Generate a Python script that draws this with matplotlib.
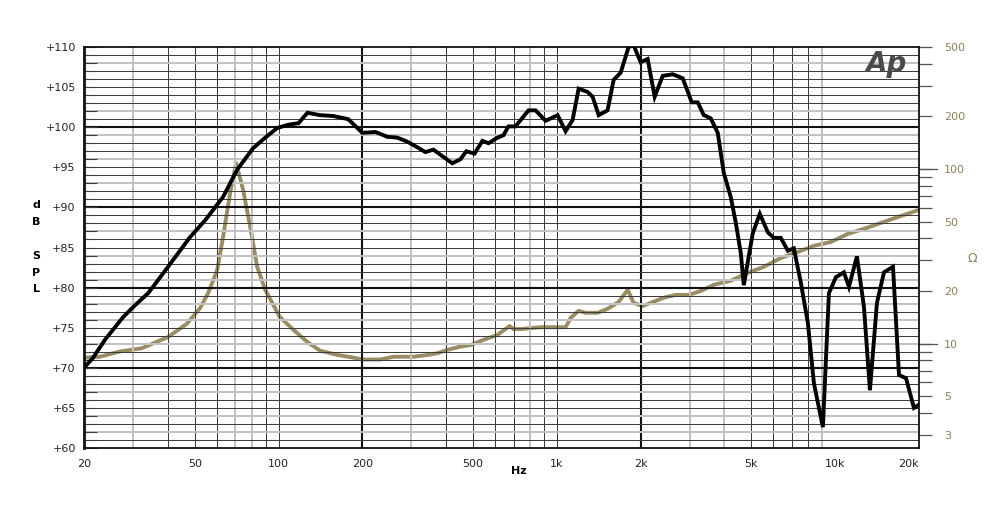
import numpy as np
import matplotlib
matplotlib.use('Agg')
from matplotlib import pyplot as plt
from matplotlib.ticker import NullFormatter

# SPL response (Hz, dB SPL)
spl_freq = [20, 21.5, 23.8, 27.6, 30.5, 34.0, 40.1, 48.1, 54.5, 63.2, 71.0, 81.1, 89.6, 98.9,
            108, 118, 127, 141, 157, 178, 200, 223, 246, 267, 290, 315, 337, 360, 391, 421,
            450, 473, 506, 540, 568, 612, 643, 670, 710, 791, 838, 911, 1006, 1075, 1139,
            1197, 1289, 1344, 1413, 1521, 1599, 1695, 1810, 1887, 2000, 2119, 2246, 2400,
            2607, 2832, 3051, 3207, 3371, 3572, 3784, 3978, 4214, 4393, 4579, 4694, 5057,
            5359, 5725, 6016, 6376, 6758, 7102, 7526, 7975, 8382, 9031, 9492, 10058, 10746,
            11202, 11967, 12683, 13328, 14124, 14968, 16128, 16950, 17962, 19188, 20000]
spl_db = [70.0, 71.2, 73.5, 76.3, 77.8, 79.3, 82.6, 86.3, 88.4, 91.3, 94.7, 97.4, 98.7, 99.9,
          100.3, 100.5, 101.8, 101.5, 101.4, 101.0, 99.3, 99.4, 98.8, 98.7, 98.2, 97.5, 96.9,
          97.2, 96.3, 95.5, 96.0, 97.0, 96.7, 98.3, 98.0, 98.7, 99.0, 100.1, 100.1, 102.1,
          102.1, 100.8, 101.5, 99.5, 100.9, 104.8, 104.4, 103.8, 101.5, 102.1, 105.9, 106.8,
          110.0, 110.2, 108.1, 108.5, 103.8, 106.4, 106.6, 106.1, 103.1, 103.1, 101.5, 101.1,
          99.3, 94.3, 91.3, 88.1, 84.3, 80.3, 86.8, 89.2, 86.9, 86.2, 86.2, 84.6, 84.9, 80.6,
          75.6, 68.1, 62.6, 79.3, 81.3, 81.9, 80.1, 83.9, 77.6, 67.2, 78.1, 81.9, 82.6, 69.1,
          68.7, 65.0, 65.4]

# impedance (Hz, ohm)
imp_freq = [20, 22.8, 26.9, 32.3, 40.1, 46.9, 52.3, 55.9, 60.2, 63.2, 67.0, 70.4, 74.6, 79.1,
            83.8, 89.6, 101, 113, 127, 141, 163, 186, 200, 232, 259, 305, 343, 372, 404, 450,
            489, 545, 612, 648, 676, 699, 740, 874, 1075, 1120, 1197, 1268, 1400, 1521, 1667,
            1796, 1887, 2033, 2173, 2420, 2673, 2977, 3288, 3661, 4214, 4853, 5538, 6376, 7342,
            8382, 9650, 11110, 12683, 14598, 16810, 20000]
imp_ohm = [8.3, 8.4, 9.0, 9.4, 10.9, 13.0, 16.0, 19.5, 26.4, 40.8, 72.9, 108, 75.9, 46.6,
           27.5, 20.3, 14.2, 12.0, 10.2, 9.1, 8.6, 8.3, 8.1, 8.1, 8.4, 8.4, 8.6, 8.8, 9.2, 9.6,
           9.8, 10.5, 11.2, 12.0, 12.6, 12.1, 12.1, 12.4, 12.4, 14.0, 15.4, 15.0, 15.0, 15.8,
           17.3, 20.3, 17.1, 16.4, 17.1, 18.3, 19.0, 19.0, 20.0, 21.7, 22.9, 25.4, 27.5, 30.9,
           33.5, 36.3, 38.2, 42.5, 45.4, 49.1, 53.1, 58.3]

x_ticks = [20, 50, 100, 200, 500, 1000, 2000, 5000, 10000, 20000]
x_labels = ['20', '50', '100', '200', '500', '1k', '2k', '5k', '10k', '20k']
db_ticks = list(range(60, 111, 5))
db_labels = ['+%d' % v for v in db_ticks]
ohm_ticks = [3, 5, 10, 20, 50, 100, 200, 500]
ohm_minor = [4, 6, 7, 8, 9, 30, 40, 60, 70, 80, 90, 300, 400]

olive = '#998e63'
olive_txt = '#8c8259'
dark = '#3c3c3c'
light = '#c2c2c2'

fig = plt.figure(figsize=(10, 5.21), dpi=100)
ax = fig.add_axes([0.084, 0.1401, 0.835, 0.7697])
ax.set_xscale('log')
ax.set_xlim(20, 20000)
ax.set_ylim(60, 110)

# grid like the AP plot
v_gray = [30, 70, 80, 300, 800, 3000, 4000, 9000]
v_major = [200, 2000]
for dec in [10, 100, 1000]:
    for k in range(1, 10):
        f = dec * k
        if f <= 20 or f > 10000:
            continue
        if f in v_major:
            ax.axvline(f, color='#111111', lw=1.5, zorder=1)
        elif f in v_gray:
            ax.axvline(f, color=light, lw=1.4, zorder=1, antialiased=False)
        else:
            ax.axvline(f, color=dark, lw=0.72, zorder=1, antialiased=False)
h_gray = [62, 64, 67, 73, 76, 78, 81, 84, 87, 93, 96, 99, 102, 108]
for d in range(61, 110):
    if d % 10 == 0:
        ax.axhline(d, color='#111111', lw=1.5, zorder=1)
    elif d in h_gray:
        ax.axhline(d, color=light, lw=1.4, zorder=1, antialiased=False)
    else:
        ax.axhline(d, color=dark, lw=0.72, zorder=1, antialiased=False)

ax.plot(spl_freq, spl_db, color='black', lw=2.8, zorder=4, solid_joinstyle='miter')

ax.set_xticks(x_ticks)
ax.set_xticklabels(x_labels)
ax.xaxis.set_minor_formatter(NullFormatter())
ax.tick_params(axis='x', which='both', length=0, pad=8, labelsize=8, colors='#222222')
ax.get_xticklabels()[-1].set_ha('right')
ax.set_yticks(db_ticks)
ax.set_yticklabels(db_labels)
ax.set_yticks(range(60, 111), minor=True)
ax.tick_params(axis='y', which='both', direction='in', length=9, width=0.8,
               color=dark, pad=6, labelsize=8, labelcolor='#222222')

for s in ax.spines.values():
    s.set_linewidth(1.3)
    s.set_color('#111111')
ax.spines['left'].set_linewidth(2)

ax2 = ax.twinx()
ax2.set_yscale('log')
ax2.set_ylim(2.52, 500)
ax2.plot(imp_freq, imp_ohm, color=olive, lw=2.8, zorder=3)
ax2.set_yticks(ohm_ticks)
ax2.set_yticklabels([str(v) for v in ohm_ticks])
ax2.set_yticks(ohm_minor, minor=True)
ax2.yaxis.set_minor_formatter(NullFormatter())
ax2.tick_params(axis='y', which='both', direction='out', length=9, width=0.9,
                color='#555555', pad=9, labelsize=8, labelcolor=olive_txt)
for v in [10, 100]:
    ax2.plot([1.0, 1.0 + 18 / 834], [v, v], transform=ax2.get_yaxis_transform(),
             color='#555555', lw=0.9, clip_on=False)
for s in ax2.spines.values():
    s.set_visible(False)
ax.set_zorder(ax2.get_zorder() + 1)
ax.patch.set_visible(False)
ax2.patch.set_visible(True)

fig.text(0.036, 1 - 247.5 / 521, 'd\nB\n\nS\nP\nL', ha='center', va='center',
         fontsize=8, fontweight='bold', linespacing=1.85)
fig.text(0.519, 1 - 471 / 521, 'Hz', ha='center', va='center', fontsize=8, fontweight='bold')
fig.text(0.972, 1 - 258 / 521, 'Ω', ha='center', va='center', fontsize=9, color=olive_txt)
fig.text(0.886, 1 - 64 / 521, 'Ap', ha='center', va='center', fontsize=20,
         fontweight='bold', style='italic', color='#4a4a4a')

fig.savefig('out.png', dpi=100)
